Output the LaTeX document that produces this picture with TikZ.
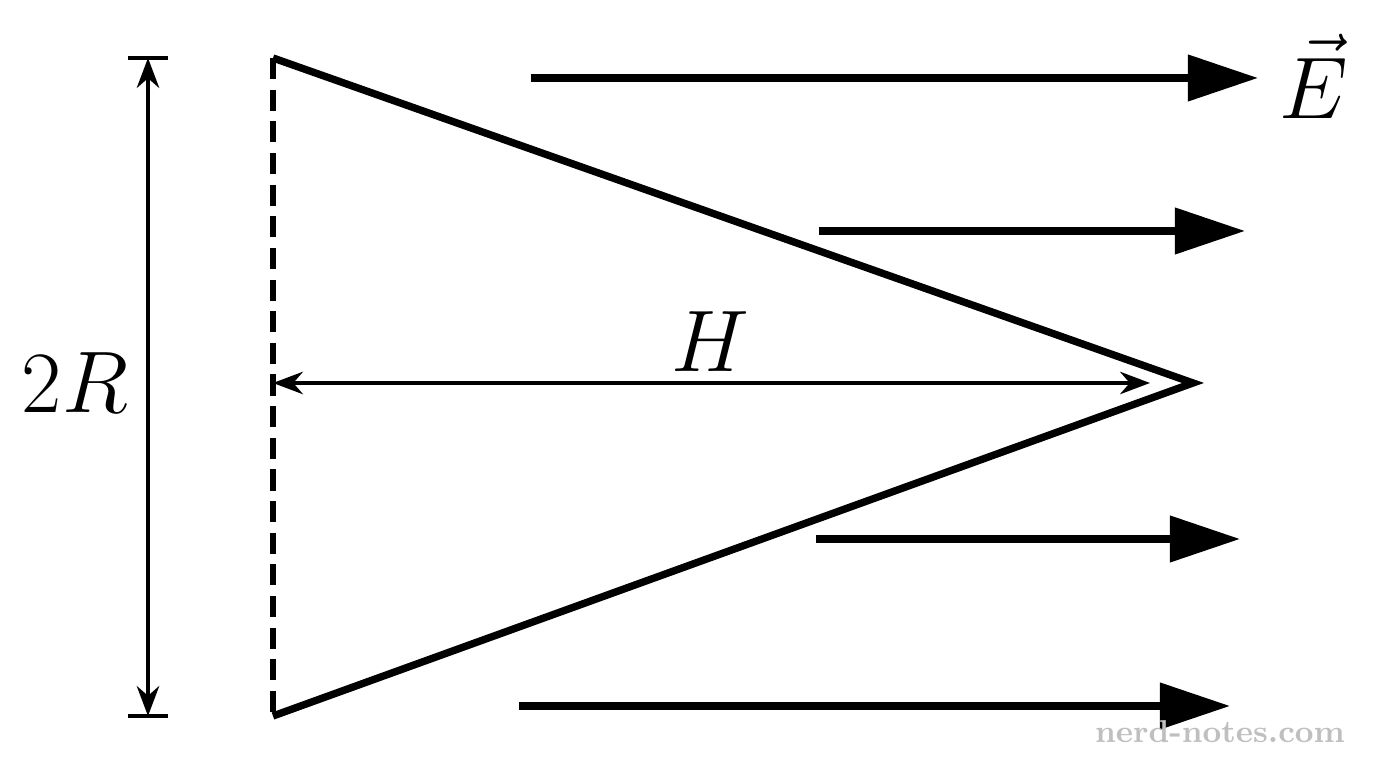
\documentclass[tikz,border=0pt]{standalone}
\usepackage{tikz}
\usetikzlibrary{arrows.meta}

\begin{document}
\begin{tikzpicture}[x=0.01cm, y=-0.01cm,
  field/.style={line width=2.1pt, -{Triangle[length=0.7cm, width=0.45cm]}},
  measure/.style={line width=0.9pt, {Stealth[length=0.3cm]}-{Stealth[length=0.3cm]}}]

\useasboundingbox (0,0) rectangle (1376,768);

% cone in side view
\coordinate (top) at (273,58);
\coordinate (bottom) at (273,716);
\coordinate (tip) at (1193,383);
\coordinate (base) at (273,383);
\coordinate (hend) at (1150,383);
\draw[line width=2.1pt, line join=miter] (bottom) -- (tip) -- (top);
\draw[line width=1.6pt, dash pattern=on 6pt off 3pt] (top) -- (bottom);

% height of the cone
\draw[measure] (base) -- (hend);
\node[font=\fontsize{38}{38}\selectfont] (hlabel) at (710,342) {$H$};

% diameter
\coordinate (dtop) at (148,58);
\coordinate (dbottom) at (148,716);
\draw[measure] (dtop) -- (dbottom);
\draw[line width=1.3pt] (128,58) -- (168,58);
\draw[line width=1.3pt] (128,716) -- (168,716);
\node[font=\fontsize{38}{38}\selectfont] (rlabel) at (75,383) {$2R$};

% field lines
\foreach \xa/\xb/\y in {531/1258/78, 819/1245/231, 816/1240/539, 519/1230/706}
  {
  \draw[field] (\xa,\y) -- (\xb,\y);
  }
\node[font=\fontsize{36}{36}\selectfont] (elabel) at (1314,76) {$\vec{E}$};

% watermark
\node[font=\bfseries\fontsize{9}{9}\selectfont, text=black!25] (mark) at (1220,732) {nerd-notes.com};

\end{tikzpicture}
\end{document}
